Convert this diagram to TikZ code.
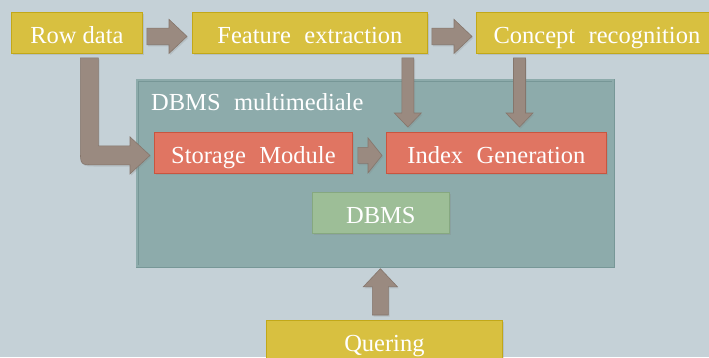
\documentclass[tikz,border=0pt]{standalone}
\usepackage{fontspec}
\setmainfont{Liberation Serif}
\usetikzlibrary{calc,shadows}
\definecolor{bgc}{HTML}{C5D1D7}
\definecolor{ylw}{HTML}{D8C040}
\definecolor{ylwb}{HTML}{C2A818}
\definecolor{redc}{HTML}{E07562}
\definecolor{redb}{HTML}{C9553F}
\definecolor{grnc}{HTML}{9DBE97}
\definecolor{grnb}{HTML}{86A880}
\definecolor{mmc}{HTML}{8DABAB}
\definecolor{mmb}{HTML}{779797}
\definecolor{arrc}{HTML}{9A8A80}
\definecolor{arrb}{HTML}{85766C}
\tikzset{
  shd/.style={drop shadow={opacity=0.22,shadow xshift=1.2pt,shadow yshift=-1.6pt}},
  boxbase/.style={rectangle, anchor=north west, minimum height=41pt, inner sep=0pt,
    text=white, font=\fontsize{24.5}{28}\selectfont, text height=20.5pt, text depth=0pt,
    line width=0.8pt, shd},
  ybox/.style={boxbase, fill=ylw, draw=ylwb},
  rbox/.style={boxbase, fill=redc, draw=redb},
  gbox/.style={boxbase, fill=grnc, draw=grnb},
  mmbox/.style={rectangle, anchor=north west, inner sep=0pt, fill=mmc, draw=mmb,
    double=mmc, double distance=2pt, line width=0.7pt, shd},
  blockarr/.style={fill=arrc, draw=arrb, line width=0.6pt, shd},
}
% rightward block arrow: #1 start, #2 end, #3 half body, #4 half head, #5 head length
\newcommand\rblockarrow[5]{%
  \draw[blockarr] let \p1=#1, \p2=#2 in
    (\x1,\y1+#3) -- (\x2-#5,\y1+#3) -- (\x2-#5,\y1+#4) -- (\x2,\y1)
    -- (\x2-#5,\y1-#4) -- (\x2-#5,\y1-#3) -- (\x1,\y1-#3) -- cycle;}
% downward block arrow
\newcommand\dblockarrow[5]{%
  \draw[blockarr] let \p1=#1, \p2=#2 in
    (\x1-#3,\y1) -- (\x1+#3,\y1) -- (\x1+#3,\y2+#5) -- (\x1+#4,\y2+#5) -- (\x1,\y2)
    -- (\x1-#4,\y2+#5) -- (\x1-#3,\y2+#5) -- cycle;}
% upward block arrow
\newcommand\ublockarrow[5]{%
  \draw[blockarr] let \p1=#1, \p2=#2 in
    (\x1-#3,\y1) -- (\x1+#3,\y1) -- (\x1+#3,\y2-#5) -- (\x1+#4,\y2-#5) -- (\x1,\y2)
    -- (\x1-#4,\y2-#5) -- (\x1-#3,\y2-#5) -- cycle;}
\begin{document}
\begin{tikzpicture}[x=1pt,y=-1pt]
\useasboundingbox (0,0) rectangle (709,357);
\clip (0,0) rectangle (709,357);
\fill[bgc] (0,0) rectangle (709,357);

% outer container
\node[mmbox, minimum width=476pt, minimum height=186pt] (mm) at (137,80) {};
\node[anchor=base west, text=white, font=\fontsize{24.5}{28}\selectfont, inner sep=0pt]
  (mmlabel) at (151,110) {DBMS\hspace{0.3em} multimediale};

% top row
\node[ybox, minimum width=131pt] (row) at (11,12) {Row data};
\node[ybox, minimum width=235pt] (feat) at (192,12) {Feature\hspace{0.3em} extraction};
\node[ybox, minimum width=241pt] (concept) at (476,12) {Concept\hspace{0.3em} recognition};

% inner boxes
\node[rbox, minimum width=198pt] (stor) at (154,132) {Storage\hspace{0.3em} Module};
\node[rbox, minimum width=220pt] (index) at (386,132) {Index\hspace{0.3em} Generation};
\node[gbox, minimum width=137pt] (dbms) at (312,192) {DBMS};

% bottom
\node[ybox, minimum width=236pt] (query) at (266,320) {Quering};

% arrows
\rblockarrow{($(row.east)+(4,3.5)$)}{($(feat.west)+(-5,3.5)$)}{8.3pt}{17pt}{18pt}
\rblockarrow{($(feat.east)+(4,3.5)$)}{($(concept.west)+(-4,3.5)$)}{8.3pt}{17pt}{18pt}
\dblockarrow{($(feat.south east)+(-20,4)$)}{($(index.north)+(0,-5)$)}{6pt}{13.5pt}{14pt}
\dblockarrow{($(concept.south west)+(43.5,4)$)}{($(index.north)+(0,-5)$)}{6pt}{13.5pt}{14pt}
\rblockarrow{($(stor.east)+(5,2.5)$)}{($(index.west)+(-4,2.5)$)}{8pt}{17.5pt}{14pt}
\ublockarrow{($(query.north)+(-4,-5)$)}{($(mm.south)+(0,2)$)}{8pt}{17pt}{18pt}

% L-shaped arrow from Row data to Storage Module
\draw[blockarr] let \p1=(row.south), \p2=(stor.west) in
  (\x1+3.5pt,\y1-4pt) -- (\x1+21.5pt,\y1-4pt) -- (\x1+21.5pt,\y2+7pt)
  -- (\x2-24pt,\y2+7pt) -- (\x2-24pt,\y2+16pt) -- (\x2-4pt,\y2-2.5pt)
  -- (\x2-24pt,\y2-21pt) -- (\x2-24pt,\y2-12pt) -- (\x1+18.5pt,\y2-12pt)
  .. controls (\x1+3.5pt,\y2-12pt) .. (\x1+3.5pt,\y2+3pt) -- cycle;
\end{tikzpicture}
\end{document}
